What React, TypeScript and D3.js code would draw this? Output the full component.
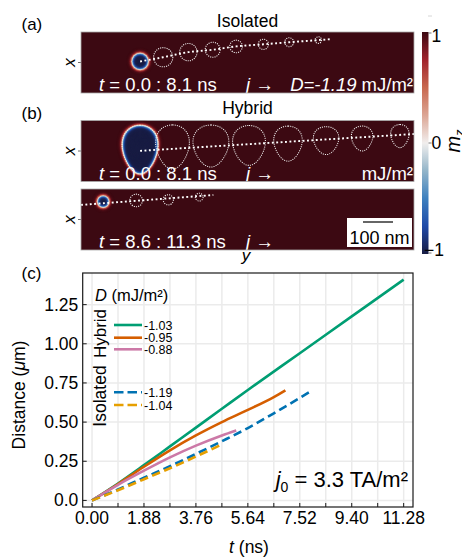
import React from "react";
import * as d3 from "d3";

const FONT = "'Liberation Sans', Arial, Helvetica, sans-serif";

// ---------------- Panel (c) data ----------------
const tHyb103 = [0, 0.94, 1.88, 2.82, 3.76, 4.7, 5.64, 7.52, 9.4, 11.28];
const dHyb103 = [0, 0.108, 0.225, 0.345, 0.465, 0.585, 0.705, 0.94, 1.175, 1.41];
const tHyb095 = [0, 0.94, 1.88, 2.82, 3.76, 4.7, 5.64, 6.58, 7.0];
const dHyb095 = [0, 0.105, 0.215, 0.32, 0.415, 0.5, 0.578, 0.66, 0.703];
const tHyb088 = [0, 0.94, 1.88, 2.82, 3.76, 4.7, 5.22];
const dHyb088 = [0, 0.1, 0.19, 0.275, 0.35, 0.415, 0.447];
const tIso119 = [0, 0.94, 1.88, 2.82, 3.76, 4.7, 5.64, 6.58, 7.85];
const dIso119 = [0, 0.07, 0.145, 0.218, 0.297, 0.378, 0.462, 0.556, 0.69];
const tIso104 = [0, 0.94, 1.88, 2.82, 3.76, 4.73];
const dIso104 = [0, 0.065, 0.135, 0.205, 0.28, 0.36];

const seriesNames = ["-1.03", "-0.95", "-0.88", "-1.19", "-1.04"];
const seriesColors = ["#009E73", "#D55E00", "#CC79A7", "#0072B2", "#E69F00"];
const seriesDashed = [false, false, false, true, true];

const xTickValues = [0, 0.94, 1.88, 2.82, 3.76, 4.7, 5.64, 6.58, 7.52, 8.46, 9.4, 10.34, 11.28];
const xTickLabels = ["0.00", "", "1.88", "", "3.76", "", "5.64", "", "7.52", "", "9.40", "", "11.28"];
const yTickValues = [0, 0.25, 0.5, 0.75, 1.0, 1.25];
const yTickLabels = ["0.0", "0.25", "0.50", "0.75", "1.00", "1.25"];

// ---------------- Snapshot panels data (nm) ----------------
// Panel (a) isolated
const isoCore = { x: 197, y: 98, r: 28 };
const isoRingX = [274, 358, 439, 517, 608, 694, 791];
const isoRingY = [84, 67, 59, 48, 41, 34, 27];
const isoRingR = [32, 29, 25, 21, 17, 15, 11];
const isoTrajX = [197, 274, 358, 439, 517, 608, 694, 791, 830];
const isoTrajY = [98, 84, 67, 59, 48, 41, 34, 27, 24];

// Panel (b) hybrid, t = 0.0 : 8.1 ns
const hybBlob = { x: 197, y: 97, w: 117, h: 163 };
const hybEggX = [305, 433, 560, 690, 817, 937, 1063];
const hybEggY = [88, 85, 83, 77, 67, 60, 52];
const hybEggW = [110, 117, 107, 93, 83, 70, 60];
const hybEggH = [147, 140, 133, 117, 93, 83, 77];
const hybTrajX = [197, 1110];
const hybTrajY = [101, 45];

// Panel (b) hybrid, t = 8.6 : 11.3 ns
const hyb2Core = { x: 74, y: 42, r: 20 };
const hyb2RingX = [184, 291, 394];
const hyb2RingY = [38, 36, 27];
const hyb2RingR = [21, 17, 13];
const hyb2TrajX = [0, 441];
const hyb2TrajY = [53, 20];

// colormap (balance-like)
const cmapValues = [-1, -0.75, -0.5, -0.25, 0, 0.25, 0.5, 0.75, 1];
const cmapColors = ["#181c43", "#1f4aa8", "#3d80bf", "#93b5c9", "#f1eeed", "#dca594", "#c8684f", "#a0232c", "#3c0912"];
const cbarTicks = [1, 0, -1];
const cbarTickLabels = ["1", "0", "\u22121"];

const cmap = d3.scaleLinear<string>().domain(cmapValues).range(cmapColors).interpolate(d3.interpolateRgb).clamp(true);
const WALL = 1.7;

function eggPath(cx: number, cy: number, w: number, h: number, k: number) {
  const pts: [number, number][] = d3.range(0, 2 * Math.PI, Math.PI / 60).map((th) => [
    cx + (w / 2) * Math.sin(th) * (1 + k * Math.cos(th)),
    cy - (h / 2) * Math.cos(th),
  ]);
  return d3.line().curve(d3.curveLinearClosed)(pts) as string;
}

function CircleSky({ cx, cy, r }: { cx: number; cy: number; r: number }) {
  const offs = d3.range(5.5, -r, -0.4);
  return (
    <g>
      {offs.map((o, i) => (
        <circle key={i} cx={cx} cy={cy} r={r + o} fill={cmap(Math.tanh(o / WALL))} />
      ))}
    </g>
  );
}

function EggSky({ cx, cy, w, h, k }: { cx: number; cy: number; w: number; h: number; k: number }) {
  const offs = d3.range(5.5, -Math.min(w, h) / 2, -0.4);
  return (
    <g>
      {offs.map((o, i) => (
        <path key={i} d={eggPath(cx, cy, w + 2 * o, h + 2 * o, k)} fill={cmap(Math.tanh(o / WALL))} />
      ))}
    </g>
  );
}

export default function App() {
  const W = 462, H = 558;
  const EGG_K = 0.22;

  // --- panel geometry
  const pL = 81, pR = 414, pH = 61;
  const panelTops = [32, 120.5, 189];
  const sx = d3.scaleLinear().domain([0, 1110]).range([pL, pR]);
  const syOf = (top: number) => d3.scaleLinear().domain([0, 203]).range([top, top + pH]);
  const kpx = sx(1) - sx(0);
  const sya = syOf(panelTops[0]);
  const syb = syOf(panelTops[1]);
  const syc = syOf(panelTops[2]);
  const bg = cmap(1);

  const trajLine = (xs: number[], ys: number[], syy: d3.ScaleLinear<number, number>) =>
    d3.line<number>().x((_, i) => sx(xs[i])).y((_, i) => syy(ys[i])).curve(d3.curveMonotoneX)(xs) as string;

  // --- chart (c)
  const x = d3.scaleLinear().domain([-0.338, 11.618]).range([82.7, 413]);
  const y = d3.scaleLinear().domain([-0.042, 1.452]).range([507, 273]);
  const series = [
    { t: tHyb103, d: dHyb103 },
    { t: tHyb095, d: dHyb095 },
    { t: tHyb088, d: dHyb088 },
    { t: tIso119, d: dIso119 },
    { t: tIso104, d: dIso104 },
  ];
  const line = d3.line<number>().curve(d3.curveMonotoneX);

  // --- colorbar
  const cbX = 422, cbW = 6.5;
  const cy = d3.scaleLinear().domain([-1, 1]).range([254, 32]);
  const gradStops = d3.range(0, 41).map((i) => i / 40);

  const white = "#ffffff";
  const panelText = { fontFamily: FONT, fontSize: 18.5, fill: white } as const;
  const ringStroke = { fill: "none", stroke: "#f2f2f2", strokeWidth: 1.05, strokeDasharray: "1.1 1.1" } as const;
  const trajStroke = { fill: "none", stroke: "#fff", strokeWidth: 1.9, strokeDasharray: "1.9 2.5" } as const;

  const legendRows = [325, 337.7, 349.3, 392.3, 405];

  return (
    <div style={{ position: "absolute", left: 0, top: 0 }}>
      <svg width={W} height={H} viewBox={`0 0 ${W} ${H}`} style={{ display: "block", background: "#fff" }}>
        <defs>
          {panelTops.map((t, i) => (
            <clipPath id={`pclip${i}`} key={i}>
              <rect x={pL} y={t} width={pR - pL} height={pH} />
            </clipPath>
          ))}
          <clipPath id="plotclip">
            <rect x={82.7} y={273} width={330.3} height={234} />
          </clipPath>
          <linearGradient id="cbar" x1="0" y1="1" x2="0" y2="0">
            {gradStops.map((s, i) => (
              <stop key={i} offset={s} stopColor={cmap(-1 + 2 * s)} />
            ))}
          </linearGradient>
        </defs>

        {/* titles */}
        <text x={21.5} y={30} fontFamily={FONT} fontSize={17}>(a)</text>
        <text x={247.5} y={26.5} fontFamily={FONT} fontSize={17.5} textAnchor="middle">Isolated</text>
        <text x={21.5} y={118.5} fontFamily={FONT} fontSize={17}>(b)</text>
        <text x={247.5} y={114} fontFamily={FONT} fontSize={17.5} textAnchor="middle">Hybrid</text>
        <text x={21.5} y={278.5} fontFamily={FONT} fontSize={17}>(c)</text>

        {/* panel backgrounds */}
        {panelTops.map((t, i) => (
          <g key={i}>
            <rect x={pL} y={t} width={pR - pL} height={pH} fill={bg} />
            <line x1={pL - 3} x2={pL} y1={t + pH / 2} y2={t + pH / 2} stroke="#444" strokeWidth={0.8} />
            <text
              transform={`translate(${75},${t + pH / 2}) rotate(-90)`}
              fontFamily={FONT}
              fontSize={17}
              fontStyle="italic"
              textAnchor="middle"
            >
              x
            </text>
          </g>
        ))}

        {/* panel (a) */}
        <g clipPath="url(#pclip0)">
          <CircleSky cx={sx(isoCore.x)} cy={sya(isoCore.y)} r={isoCore.r * kpx} />
          {isoRingX.map((v, i) => (
            <circle key={i} cx={sx(v)} cy={sya(isoRingY[i])} r={isoRingR[i] * kpx} {...ringStroke} />
          ))}
          <path d={trajLine(isoTrajX, isoTrajY, sya)} {...trajStroke} />
          <text x={99} y={91} {...panelText}>
            <tspan fontStyle="italic">t</tspan> = 0.0 : 8.1 ns
          </text>
          <text x={246} y={91} {...panelText}>
            <tspan fontStyle="italic">j</tspan> →
          </text>
          <text x={413} y={91} {...panelText} textAnchor="end">
            <tspan fontStyle="italic">D=-1.19</tspan> mJ/m²
          </text>
        </g>

        {/* panel (b) top */}
        <g clipPath="url(#pclip1)">
          <EggSky cx={sx(hybBlob.x)} cy={syb(hybBlob.y)} w={hybBlob.w * kpx} h={hybBlob.h * kpx} k={EGG_K} />
          <path d={eggPath(sx(hybBlob.x), syb(hybBlob.y), hybBlob.w * kpx, hybBlob.h * kpx, EGG_K)} {...ringStroke} />
          {hybEggX.map((v, i) => (
            <path key={i} d={eggPath(sx(v), syb(hybEggY[i]), hybEggW[i] * kpx, hybEggH[i] * kpx, EGG_K)} {...ringStroke} />
          ))}
          <path d={trajLine(hybTrajX, hybTrajY, syb)} {...trajStroke} />
          <text x={99} y={179.5} {...panelText}>
            <tspan fontStyle="italic">t</tspan> = 0.0 : 8.1 ns
          </text>
          <text x={246} y={179.5} {...panelText}>
            <tspan fontStyle="italic">j</tspan> →
          </text>
          <text x={413} y={179.5} {...panelText} textAnchor="end">mJ/m²</text>
        </g>

        {/* panel (b) bottom */}
        <g clipPath="url(#pclip2)">
          <CircleSky cx={sx(hyb2Core.x)} cy={syc(hyb2Core.y)} r={hyb2Core.r * kpx} />
          {hyb2RingX.map((v, i) => (
            <circle key={i} cx={sx(v)} cy={syc(hyb2RingY[i])} r={hyb2RingR[i] * kpx} {...ringStroke} />
          ))}
          <path d={trajLine(hyb2TrajX, hyb2TrajY, syc)} {...trajStroke} />
          <text x={99} y={248} {...panelText}>
            <tspan fontStyle="italic">t</tspan> = 8.6 : 11.3 ns
          </text>
          <text x={246} y={248} {...panelText}>
            <tspan fontStyle="italic">j</tspan> →
          </text>
          <rect x={347} y={218} width={65} height={29} fill="#fff" />
          <line x1={sx(0) + 282} x2={sx(0) + 282 + 100 * kpx} y1={222} y2={222} stroke="#000" strokeWidth={1.2} />
          <text x={379.5} y={244} fontFamily={FONT} fontSize={18} textAnchor="middle" fill="#000">100 nm</text>
        </g>
        {panelTops.map((t, i) => (
          <rect key={i} x={pL} y={t} width={pR - pL} height={pH} fill="none" stroke="#aaa" strokeWidth={0.8} />
        ))}
        <text x={246} y={261} fontFamily={FONT} fontSize={17} fontStyle="italic" textAnchor="middle">y</text>

        {/* colorbar */}
        <rect x={cbX} y={cy(1)} width={cbW} height={cy(-1) - cy(1)} fill="url(#cbar)" />
        <line x1={428} x2={432} y1={16} y2={16} stroke="#ccc" strokeWidth={0.8} />
        {cbarTicks.map((v, i) => (
          <g key={i}>
            <line x1={cbX + cbW} x2={cbX + cbW + 3} y1={cy(v) + (v === 1 ? 1 : v === -1 ? -1 : 0)} y2={cy(v) + (v === 1 ? 1 : v === -1 ? -1 : 0)} stroke="#555" strokeWidth={0.8} />
            <text x={v === -1 ? 424 : 431.5} y={cy(v) + (v === 1 ? 10 : v === -1 ? 2 : 6)} fontFamily={FONT} fontSize={17.5}>
              {cbarTickLabels[i]}
            </text>
          </g>
        ))}
        <text transform={`translate(460,${cy(0) - 2}) rotate(-90)`} fontFamily={FONT} fontSize={20} textAnchor="middle">
          <tspan fontStyle="italic">m</tspan>
          <tspan fontSize={13} dy={4} fontStyle="italic">z</tspan>
        </text>

        {/* chart (c) */}
        <g>
          {xTickValues.map((v, i) => (
            <line key={"gx" + i} x1={x(v)} x2={x(v)} y1={273} y2={507} stroke="#ebebeb" strokeWidth={1.5} />
          ))}
          {yTickValues.map((v, i) => (
            <line key={"gy" + i} x1={82.7} x2={413} y1={y(v)} y2={y(v)} stroke="#ebebeb" strokeWidth={1.5} />
          ))}
          <g clipPath="url(#plotclip)">
            {series.map((s, i) => (
              <path
                key={i}
                d={line.x((_, j) => x(s.t[j])).y((_, j) => y(s.d[j]))(s.t) as string}
                fill="none"
                stroke={seriesColors[i]}
                strokeWidth={2.6}
                strokeDasharray={seriesDashed[i] ? "8.5 4.5" : undefined}
              />
            ))}
          </g>
          <rect x={82.7} y={273} width={330.3} height={234} fill="none" stroke="#1a1a1a" strokeWidth={1.2} />
          {xTickValues.map((v, i) => (
            <g key={"tx" + i}>
              <line x1={x(v)} x2={x(v)} y1={507} y2={503} stroke="#1a1a1a" strokeWidth={1} />
              {xTickLabels[i] && (
                <text x={x(v)} y={524} fontFamily={FONT} fontSize={17.5} textAnchor="middle">
                  {xTickLabels[i]}
                </text>
              )}
            </g>
          ))}
          {yTickValues.map((v, i) => (
            <g key={"ty" + i}>
              <line x1={82.7} x2={86.7} y1={y(v)} y2={y(v)} stroke="#1a1a1a" strokeWidth={1} />
              <text x={78.3} y={y(v) + 6} fontFamily={FONT} fontSize={17.5} textAnchor="end">
                {yTickLabels[i]}
              </text>
            </g>
          ))}
          <text x={249} y={553} fontFamily={FONT} fontSize={17.5} textAnchor="middle">
            <tspan fontStyle="italic">t</tspan> (ns)
          </text>
          <text transform={`translate(25,395) rotate(-90)`} fontFamily={FONT} fontSize={17.5} textAnchor="middle">
            Distance (<tspan fontStyle="italic">μ</tspan>m)
          </text>

          {/* legend */}
          <text x={95} y={301} fontFamily={FONT} fontSize={16.5}>
            <tspan fontStyle="italic">D</tspan> (mJ/m²)
          </text>
          <text transform={`translate(105.5,333.5) rotate(-90)`} fontFamily={FONT} fontSize={17} textAnchor="middle">Hybrid</text>
          <text transform={`translate(105.5,396) rotate(-90)`} fontFamily={FONT} fontSize={17.5} textAnchor="middle">Isolated</text>
          {seriesNames.map((n, i) => (
            <g key={"lg" + i}>
              <line
                x1={114}
                x2={142}
                y1={legendRows[i]}
                y2={legendRows[i]}
                stroke={seriesColors[i]}
                strokeWidth={2.6}
                strokeDasharray={seriesDashed[i] ? "9.5 4" : undefined}
              />
              <text x={144} y={legendRows[i] + 4.5} fontFamily={FONT} fontSize={12.5}>
                {n}
              </text>
            </g>
          ))}

          <text x={408} y={487} fontFamily={FONT} fontSize={22} textAnchor="end">
            <tspan fontStyle="italic">j</tspan>
            <tspan fontSize={14} dy={5}>0</tspan>
            <tspan dy={-5}> = 3.3 TA/m²</tspan>
          </text>
        </g>
      </svg>
    </div>
  );
}
